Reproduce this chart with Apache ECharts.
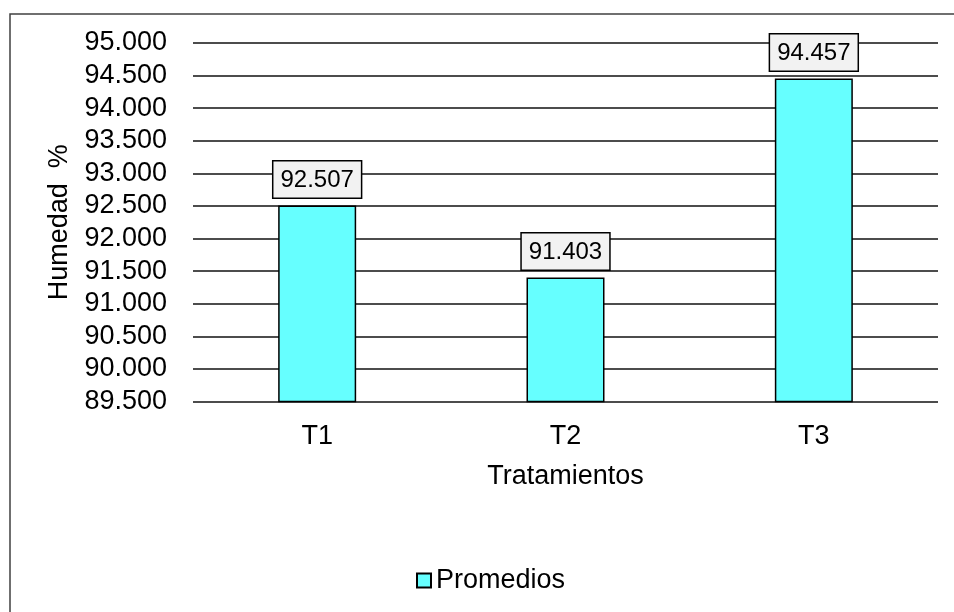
<!DOCTYPE html>
<html>
<head>
<meta charset="utf-8">
<script src="https://cdn.jsdelivr.net/npm/echarts@6/dist/echarts.min.js"></script>
<style>
  html, body { margin: 0; padding: 0; background: #fff; }
  #chart { width: 954px; height: 612px; }
</style>
</head>
<body>
<div id="chart"></div>
<script>
// Treatments and their mean moisture values
const categories = ['T1', 'T2', 'T3'];
const promedios = [92.507, 91.403, 94.457];
const yMin = 89.5;
const yMax = 95;
const yStep = 0.5;

const FONT = 'Liberation Sans, Arial, sans-serif';

const chart = echarts.init(document.getElementById('chart'), null, { renderer: 'canvas' });

chart.setOption({
  animation: false,
  backgroundColor: '#ffffff',
  graphic: [{
    type: 'rect',
    shape: { x: 10, y: 14, width: 1200, height: 900 },
    style: { fill: 'none', stroke: '#404040', lineWidth: 1.5 },
    silent: true
  }],
  grid: { left: 193, right: 16, top: 43, bottom: 210.5 },
  legend: {
    data: ['Promedios'],
    bottom: 13,
    left: 411,
    itemWidth: 14,
    itemHeight: 14,
    itemGap: 8,
    icon: 'rect',
    textStyle: { fontFamily: FONT, fontSize: 27, color: '#000' }
  },
  xAxis: {
    type: 'category',
    data: categories,
    name: 'Tratamientos',
    nameLocation: 'middle',
    nameGap: 62,
    nameTextStyle: { fontFamily: FONT, fontSize: 27, color: '#000' },
    axisLine: { show: false },
    axisTick: { show: false },
    axisLabel: { margin: 22, fontFamily: FONT, fontSize: 27, color: '#000' }
  },
  yAxis: {
    type: 'value',
    min: yMin,
    max: yMax,
    interval: yStep,
    name: 'Humedad  %',
    nameLocation: 'middle',
    nameGap: 119,
    nameTextStyle: { fontFamily: FONT, fontSize: 27, color: '#000' },
    axisLine: { show: false },
    axisTick: { show: false },
    axisLabel: {
      margin: 26,
      fontFamily: FONT,
      fontSize: 27,
      color: '#000',
      formatter: v => v.toFixed(3)
    },
    splitLine: { lineStyle: { color: '#111', width: 1.5 } }
  },
  series: [{
    name: 'Promedios',
    type: 'bar',
    data: promedios,
    barWidth: 78,
    itemStyle: { color: '#66ffff', borderColor: '#000', borderWidth: 1.5 },
    label: {
      show: true,
      position: 'top',
      distance: 8,
      formatter: p => p.value.toFixed(3),
      fontFamily: FONT,
      fontSize: 24,
      color: '#000',
      backgroundColor: '#f2f2f2',
      borderColor: '#000',
      borderWidth: 1.5,
      padding: [5, 7, 4, 7],
      lineHeight: 27
    }
  }]
});
</script>
</body>
</html>
